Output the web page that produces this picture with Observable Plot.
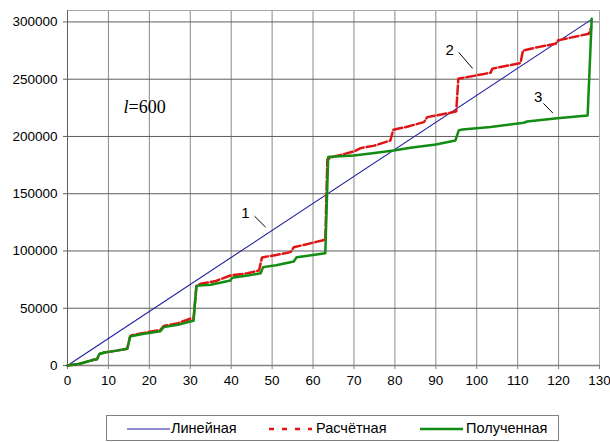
<!DOCTYPE html>
<html><head><meta charset="utf-8">
<script src="https://cdn.jsdelivr.net/npm/d3@7"></script>
<script src="https://cdn.jsdelivr.net/npm/@observablehq/plot@0.6"></script>
<style>
body{margin:0;background:#fff;font-family:"Liberation Sans",Arial,sans-serif;}
#wrap{position:relative;width:610px;height:442px;overflow:hidden;}
#legend{position:absolute;left:106px;top:415px;width:453px;height:26px;border:1px solid #808080;box-sizing:border-box;font-size:14.5px;color:#000;}
#legend .s{position:absolute;top:11px;}
#legend .t{position:absolute;top:3px;line-height:18px;}
</style></head>
<body><div id="wrap"><div id="chart"></div><div id="legend"></div></div>
<script>
// ---- data ----
const seriesNames = ["Линейная", "Расчётная", "Полученная"];
const xTicks = [0,10,20,30,40,50,60,70,80,90,100,110,120,130];
const yTicks = [0,50000,100000,150000,200000,250000,300000];

const linearX = [0, 128];
const linearY = [0, 302000];

const calcX = [0,3,6.4,7.2,7.8,9,12,14.6,15.3,15.8,18.7,22.7,23.5,27,30,30.8,31.5,32.5,36,39.8,44,46.8,47.5,47.8,51,54.5,55.3,58,62.2,63,63.5,64.7,70,71.6,75,78.9,79.6,83,87.1,87.9,94.4,95,95.5,96.5,103.4,103.8,110.7,111.3,115,119.3,119.8,127.4,128];
const calcY = [0,1500,5000,5500,10000,11400,13000,14600,25500,26500,28500,31000,34500,37000,40800,41000,69500,71400,73500,78600,80500,83000,94000,94600,96500,99000,103300,105500,109200,110000,180000,182000,186900,189800,192000,196500,205900,208500,212500,216900,221300,222000,250400,251000,255700,259200,264100,275100,278000,281000,283900,289700,295500];

const obtX = [0,3,6.4,7.2,7.8,9,12,14.6,15.3,15.8,18.7,22.7,23.5,27,30,30.8,31.5,32.1,35,39.8,40.2,44,47.2,47.8,51,55.3,56,60,63,63.7,64.3,70,75,79.7,83.8,90,94.8,95.6,96.5,103.4,111.5,112.3,119.7,127.1,128.1];
const obtY = [0,1500,5000,5500,10000,11400,13000,14600,25000,25800,27700,30000,33500,35500,38400,39000,69000,69900,70500,74200,76600,78500,80600,85900,87500,90800,94600,96500,98100,182000,182300,183400,185500,187800,190200,193000,196500,205300,206100,208200,212000,213100,216000,218400,302800];

const labelText = ["1","2","3"];
const labelX = [43.5, 93.4, 115];
const labelY = [132800, 275200, 234400];
const leadX1 = [45.7, 95.6, 116.3];
const leadY1 = [130400, 273400, 228900];
const leadX2 = [48.4, 99, 118.6];
const leadY2 = [120800, 259400, 220400];

const noteX = [13.7];
const noteY = [225400];

const colors = ["#1f1f9e", "#e01414", "#138c13"];

// ---- tables ----
const lin = linearX.map((x,i)=>({x, y: linearY[i]}));
const calc = calcX.map((x,i)=>({x, y: calcY[i]}));
const obt = obtX.map((x,i)=>({x, y: obtY[i]}));
const labels = labelText.map((t,i)=>({t, x: labelX[i], y: labelY[i], x1: leadX1[i], y1: leadY1[i], x2: leadX2[i], y2: leadY2[i]}));
const note = noteX.map((x,i)=>({x, y: noteY[i]}));

const chart = Plot.plot({
  width: 610, height: 405,
  marginLeft: 67, marginRight: 11, marginTop: 10, marginBottom: 40,
  style: {fontFamily: '"Liberation Sans", Arial, sans-serif', fontSize: "13.5px", background: "#fff", color: "#000"},
  x: {domain: [0,130]},
  y: {domain: [0,310000]},
  marks: [
    Plot.ruleX(xTicks, {stroke: "#8a8a8a", strokeWidth: 1}),
    Plot.ruleY(yTicks, {stroke: "#5e5e5e", strokeWidth: 1}),
    Plot.frame({stroke: "#a8a8a8"}),
    Plot.ruleY([0], {stroke: "#808080", strokeWidth: 1.5}),
    Plot.ruleX([0], {stroke: "#606060"}),
    Plot.axisX({ticks: xTicks, tickSize: 4, tickPadding: 6, stroke: "#808080", fill: "#000", label: null, tickFormat: d => String(d)}),
    Plot.axisY({ticks: yTicks, tickSize: 4, tickPadding: 6, stroke: "#606060", fill: "#000", label: null, tickFormat: d => String(d)}),
    Plot.line(lin, {x: "x", y: "y", stroke: colors[0], strokeWidth: 1.1}),
    Plot.line(calc, {x: "x", y: "y", stroke: colors[1], strokeWidth: 2.5, strokeDasharray: "9,3", strokeLinejoin: "round"}),
    Plot.line(obt, {x: "x", y: "y", stroke: colors[2], strokeWidth: 2.5, strokeLinejoin: "round"}),
    Plot.link(labels, {x1: "x1", y1: "y1", x2: "x2", y2: "y2", stroke: "#000", strokeWidth: 1}),
    Plot.text(labels, {x: "x", y: "y", text: "t", fontSize: 15, fill: "#000"}),
    Plot.text(note, {x: "x", y: "y", text: d => "l", fontSize: 18, fontStyle: "italic", fontFamily: '"Liberation Serif", "Times New Roman", serif', textAnchor: "start", fill: "#000"}),
    Plot.text(note, {x: "x", y: "y", text: d => "=600", dx: 5, fontSize: 18, fontFamily: '"Liberation Serif", "Times New Roman", serif', textAnchor: "start", fill: "#000"})
  ]
});
document.getElementById("chart").appendChild(chart);

// ---- legend ----
const legend = d3.select("#legend");
const sLeft = [20, 162, 313];
const tLeft = [64, 209, 359];
const dashes = [null, "5,8", null];
const widths = [1.2, 2.5, 2.5];
seriesNames.forEach((name, i) => {
  const svg = legend.append("svg").attr("class","s").attr("width",43).attr("height",4)
    .style("left", sLeft[i] + "px");
  svg.append("line").attr("x1",0).attr("x2",43).attr("y1",2).attr("y2",2)
    .attr("stroke", colors[i]).attr("stroke-width", widths[i])
    .attr("stroke-dasharray", dashes[i]);
  legend.append("div").attr("class","t").style("left", tLeft[i] + "px").text(name);
});
</script></body></html>
